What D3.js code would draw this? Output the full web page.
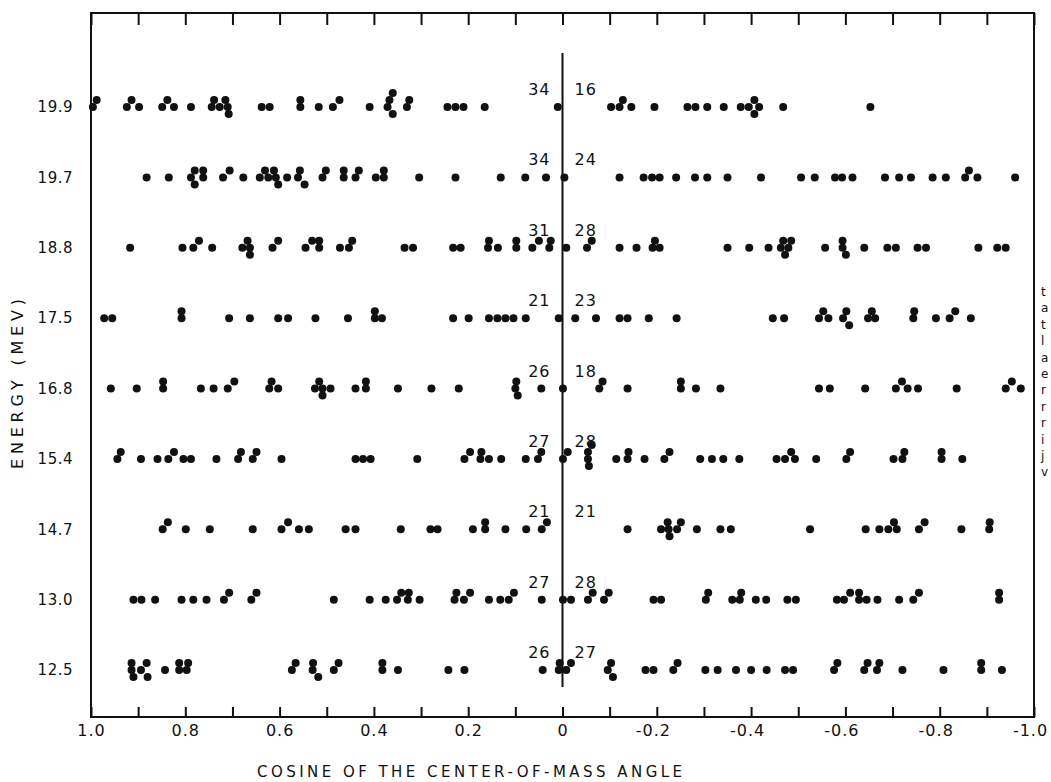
<!DOCTYPE html>
<html>
<head>
<meta charset="utf-8">
<script src="https://cdn.jsdelivr.net/npm/d3@7"></script>
<style>
  body { margin: 0; background: #fff; }
  svg text { font-family: "DejaVu Sans", sans-serif; fill: #111; }
</style>
</head>
<body>
<div id="chart"></div>
<script>
// energy rows, top to bottom
const energies = ["19.9", "19.7", "18.8", "17.5", "16.8", "15.4", "14.7", "13.0", "12.5"];
// number of events each side of cos = 0
const leftCounts  = [34, 34, 31, 21, 26, 27, 21, 27, 26];
const rightCounts = [16, 24, 28, 23, 18, 28, 21, 28, 27];

// cosine of the c.m. angle for every event, one list per energy
const cos199 = [0.996, 0.988, 0.924, 0.914, 0.898, 0.849, 0.838, 0.824, 0.788, 0.744, 0.739, 0.727, 0.715, 0.710, 0.708,
  0.638, 0.621, 0.556, 0.556, 0.517, 0.487, 0.473, 0.409, 0.371, 0.367, 0.360, 0.360, 0.330, 0.325,
  0.244, 0.227, 0.210, 0.165, 0.010,
  -0.103, -0.121, -0.128, -0.146, -0.195, -0.265, -0.282, -0.307, -0.342, -0.378, -0.395, -0.407, -0.407, -0.417, -0.468, -0.653];
const cos197 = [0.882, 0.835, 0.788, 0.780, 0.780, 0.762, 0.762, 0.720, 0.706, 0.677, 0.642, 0.631, 0.624, 0.612, 0.608,
  0.603, 0.584, 0.561, 0.557, 0.547, 0.509, 0.502, 0.464, 0.464, 0.439, 0.432, 0.396, 0.379, 0.379,
  0.304, 0.227, 0.131, 0.079, 0.035,
  -0.004, -0.121, -0.172, -0.190, -0.206, -0.241, -0.281, -0.307, -0.350, -0.421, -0.506, -0.535, -0.578, -0.593,
  -0.615, -0.684, -0.714, -0.739, -0.785, -0.813, -0.854, -0.862, -0.880, -0.960];
const cos188 = [0.917, 0.806, 0.783, 0.771, 0.743, 0.679, 0.668, 0.663, 0.663, 0.615, 0.603, 0.545, 0.531, 0.516, 0.516,
  0.472, 0.453, 0.446, 0.335, 0.317, 0.232, 0.216, 0.158, 0.156, 0.137, 0.098, 0.098, 0.064, 0.050, 0.028, 0.025,
  -0.008, -0.052, -0.062, -0.121, -0.157, -0.191, -0.196, -0.206, -0.350, -0.396, -0.437, -0.463, -0.468, -0.472,
  -0.479, -0.485, -0.557, -0.594, -0.594, -0.601, -0.640, -0.689, -0.707, -0.753, -0.771, -0.882, -0.922, -0.940];
const cos175 = [0.972, 0.955, 0.808, 0.808, 0.707, 0.663, 0.603, 0.582, 0.524, 0.455, 0.398, 0.398, 0.383, 0.232,
  0.199, 0.156, 0.138, 0.121, 0.104, 0.078, 0.008,
  -0.027, -0.071, -0.121, -0.138, -0.183, -0.242, -0.446, -0.470, -0.544, -0.553, -0.564, -0.595, -0.602, -0.608,
  -0.648, -0.656, -0.663, -0.744, -0.746, -0.792, -0.821, -0.833, -0.866];
const cos168 = [0.958, 0.903, 0.847, 0.847, 0.767, 0.740, 0.710, 0.696, 0.622, 0.617, 0.603, 0.525, 0.516, 0.509, 0.509,
  0.492, 0.439, 0.417, 0.417, 0.349, 0.278, 0.220, 0.100, 0.098, 0.095, 0.045,
  -0.001, -0.078, -0.085, -0.138, -0.251, -0.251, -0.283, -0.335, -0.544, -0.567, -0.642, -0.707, -0.720, -0.732,
  -0.754, -0.836, -0.940, -0.953, -0.972];
const cos154 = [0.944, 0.937, 0.894, 0.859, 0.836, 0.824, 0.804, 0.788, 0.734, 0.688, 0.682, 0.657, 0.649, 0.596,
  0.439, 0.423, 0.407, 0.308, 0.208, 0.196, 0.174, 0.172, 0.156, 0.130, 0.078, 0.052, 0.045,
  -0.001, -0.011, -0.054, -0.054, -0.056, -0.062, -0.114, -0.138, -0.140, -0.174, -0.216, -0.227, -0.292, -0.317,
  -0.341, -0.375, -0.454, -0.472, -0.485, -0.493, -0.538, -0.602, -0.610, -0.702, -0.721, -0.725, -0.804, -0.804, -0.848];
const cos147 = [0.848, 0.837, 0.799, 0.748, 0.657, 0.596, 0.582, 0.559, 0.538, 0.460, 0.439, 0.343, 0.280, 0.265,
  0.190, 0.164, 0.164, 0.121, 0.077, 0.044, 0.033,
  -0.138, -0.209, -0.223, -0.225, -0.227, -0.243, -0.251, -0.285, -0.335, -0.357, -0.525, -0.643, -0.672, -0.691,
  -0.703, -0.709, -0.756, -0.768, -0.846, -0.905, -0.906];
const cos130 = [0.910, 0.893, 0.864, 0.808, 0.783, 0.755, 0.718, 0.707, 0.660, 0.649, 0.485, 0.409, 0.375, 0.351,
  0.342, 0.328, 0.326, 0.303, 0.229, 0.225, 0.209, 0.196, 0.156, 0.132, 0.114, 0.103, 0.044,
  -0.001, -0.018, -0.054, -0.064, -0.088, -0.098, -0.193, -0.209, -0.304, -0.309, -0.360, -0.376, -0.379, -0.410,
  -0.432, -0.477, -0.495, -0.582, -0.597, -0.610, -0.629, -0.629, -0.645, -0.668, -0.714, -0.744, -0.756, -0.926, -0.926];
const cos125 = [0.914, 0.914, 0.910, 0.894, 0.882, 0.880, 0.843, 0.813, 0.813, 0.797, 0.794, 0.574, 0.566, 0.530,
  0.529, 0.518, 0.485, 0.475, 0.382, 0.382, 0.349, 0.242, 0.208, 0.042, 0.008, 0.006,
  -0.008, -0.018, -0.096, -0.103, -0.107, -0.176, -0.193, -0.235, -0.244, -0.303, -0.329, -0.368, -0.400, -0.433,
  -0.472, -0.489, -0.576, -0.583, -0.640, -0.647, -0.667, -0.672, -0.721, -0.808, -0.888, -0.888, -0.932];
const rowValues = [cos199, cos197, cos188, cos175, cos168, cos154, cos147, cos130, cos125];

const tickLabels = ["1.0", "0.8", "0.6", "0.4", "0.2", "0", "-0.2", "-0.4", "-0.6", "-0.8", "-1.0"];
// fragments of the page text cut off at the right edge of the scan
const edgeLetters = ["t", "a", "t", "l", "a", "e", "r", "r", "r", "i", "j", "v"];

const W = 1051, H = 782;
const plot = {left: 91, right: 1034, top: 13, bottom: 717};
const dotR = 4;

const svg = d3.select("#chart").append("svg")
    .attr("width", W)
    .attr("height", H);

const x = d3.scaleLinear().domain([1, -1]).range([plot.left, plot.right]);
const y = d3.scalePoint().domain(energies).range([107, 670]);

// frame
svg.append("rect")
    .attr("x", plot.left).attr("y", plot.top)
    .attr("width", plot.right - plot.left).attr("height", plot.bottom - plot.top)
    .attr("fill", "none").attr("stroke", "#111").attr("stroke-width", 2);

// ticks every 0.1, labels every 0.2
const tickVals = d3.range(-10, 11).map(i => i / 10);
const labelFor = v => {
    const i = Math.round((1 - v) * 5);
    return Math.abs(Math.round(v * 10)) % 2 === 0 ? tickLabels[i] : "";
};

const bottomAxis = svg.append("g")
    .attr("transform", `translate(0, ${plot.bottom})`)
    .call(d3.axisBottom(x).tickValues(tickVals).tickFormat(labelFor).tickSizeInner(-10).tickSizeOuter(0).tickPadding(8));
bottomAxis.select(".domain").remove();
bottomAxis.selectAll("line").attr("stroke", "#111").attr("stroke-width", 2);
bottomAxis.selectAll("text")
    .attr("font-size", 16).attr("letter-spacing", 1)
    .attr("dx", d => d < 0 ? -4 : 0);

const topAxis = svg.append("g")
    .attr("transform", `translate(0, ${plot.top})`)
    .call(d3.axisTop(x).tickValues(tickVals).tickFormat("").tickSizeInner(-12).tickSizeOuter(0));
topAxis.select(".domain").remove();
topAxis.selectAll("line").attr("stroke", "#111").attr("stroke-width", 2);

const leftAxis = svg.append("g")
    .attr("transform", `translate(${plot.left}, 0)`)
    .call(d3.axisLeft(y).tickSize(0).tickPadding(18));
leftAxis.select(".domain").remove();
leftAxis.selectAll("text").attr("font-size", 15).attr("letter-spacing", 0.5);

// cos = 0 divider
svg.append("line")
    .attr("x1", x(0)).attr("x2", x(0))
    .attr("y1", 53).attr("y2", 687)
    .attr("stroke", "#111").attr("stroke-width", 2);

// stack dots that would overlap (simple greedy dodge along the row)
function dodge(vals) {
    const minDist = 7, offsets = [0, -7, 7, -14, 14];
    const pts = vals.map(c => ({c, px: x(c), dy: 0})).sort((a, b) => a.px - b.px);
    const placed = [];
    pts.forEach(p => {
        for (const off of offsets) {
            if (placed.every(q => Math.hypot(q.px - p.px, q.dy - off) >= minDist)) { p.dy = off; break; }
        }
        placed.push(p);
    });
    return pts;
}

energies.forEach((e, i) => {
    const row = svg.append("g").attr("class", "row");
    row.selectAll("circle")
        .data(dodge(rowValues[i]))
        .join("circle")
            .attr("cx", d => x(d.c))
            .attr("cy", d => y(e) + d.dy)
            .attr("r", dotR)
            .attr("fill", "#111");

    row.append("text")
        .attr("x", x(0) - 12).attr("y", y(e) - 12)
        .attr("text-anchor", "end")
        .attr("font-size", 16).attr("letter-spacing", 1)
        .text(leftCounts[i]);
    row.append("text")
        .attr("x", x(0) + 12).attr("y", y(e) - 12)
        .attr("font-size", 16).attr("letter-spacing", 1)
        .text(rightCounts[i]);
});

// axis titles
svg.append("text")
    .attr("x", 257).attr("y", 777)
    .attr("font-size", 15)
    .attr("textLength", 425).attr("lengthAdjust", "spacing")
    .text("COSINE OF THE CENTER-OF-MASS ANGLE");

svg.append("text")
    .attr("transform", "translate(23, 384) rotate(-90)")
    .attr("text-anchor", "middle")
    .attr("font-size", 16)
    .attr("textLength", 170).attr("lengthAdjust", "spacing")
    .text("ENERGY (MEV)");

// caption letters at the right edge of the scan
svg.append("g").selectAll("text")
    .data(edgeLetters)
    .join("text")
        .attr("x", 1041)
        .attr("y", (d, i) => 296 + i * 16.4)
        .attr("font-family", "'Liberation Serif', serif")
        .attr("font-size", 12)
        .text(d => d);
</script>
</body>
</html>
